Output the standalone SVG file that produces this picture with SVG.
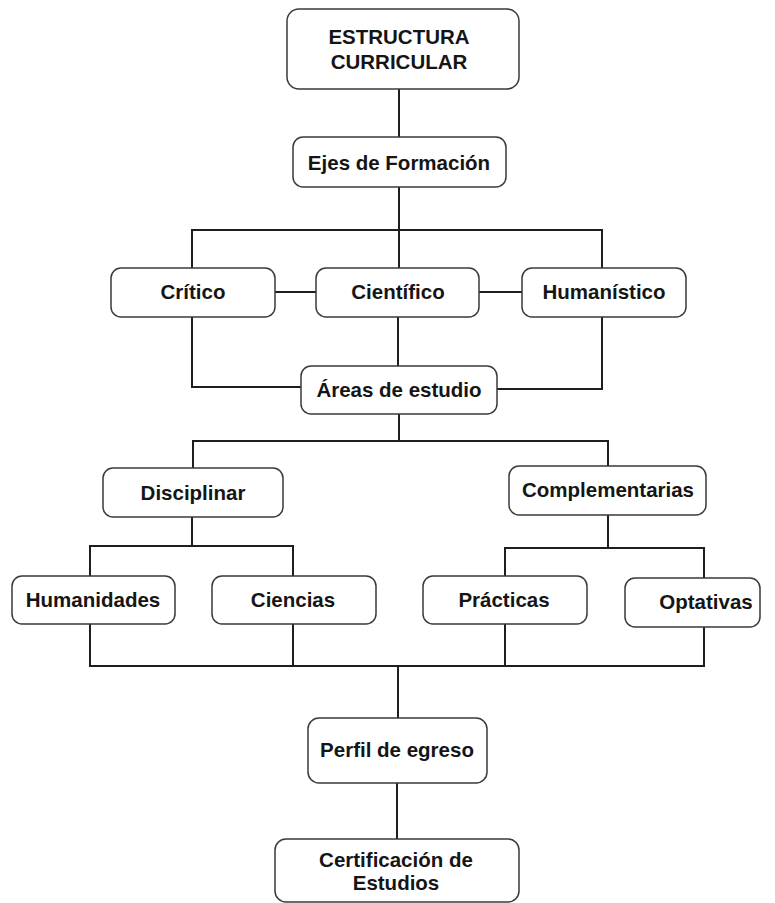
<svg xmlns="http://www.w3.org/2000/svg" width="775" height="903" viewBox="0 0 775 903">
  <style>
    .box { fill: #ffffff; stroke: #3a3a3a; stroke-width: 1.5; }
    .lbl { font-family: "Liberation Sans", Arial, sans-serif; font-weight: bold; font-size: 20.5px; fill: #151515; text-anchor: middle; }
    .wire { fill: none; stroke: #1e1e1e; stroke-width: 2; }
  </style>
  <rect width="775" height="903" fill="#ffffff"/>

  <!-- connectors -->
  <g id="connectors" class="wire">
    <path d="M399 89 V137"/>
    <path d="M399 187 V230"/>
    <path d="M192 268 V230 H602 V268"/>
    <path d="M399 230 V268"/>
    <path d="M275 292 H316"/>
    <path d="M479 292 H522"/>
    <path d="M192 317 V387 H301"/>
    <path d="M602 317 V389 H497"/>
    <path d="M398 317 V366"/>
    <path d="M399 414 V441"/>
    <path d="M193 468 V441 H608 V466"/>
    <path d="M192 517 V546"/>
    <path d="M90 576 V546 H293 V576"/>
    <path d="M608 515 V548"/>
    <path d="M505 576 V548 H704 V578"/>
    <path d="M90 624 V666 H704 V627"/>
    <path d="M293 624 V666"/>
    <path d="M505 624 V666"/>
    <path d="M398 666 V718"/>
    <path d="M397 783 V839"/>
  </g>

  <g id="estructura">
    <rect class="box" x="287" y="9" width="232" height="80" rx="12"/>
    <text class="lbl" x="399" y="44">ESTRUCTURA</text>
    <text class="lbl" x="399" y="69">CURRICULAR</text>
  </g>
  <g id="ejes">
    <rect class="box" x="293" y="137" width="213" height="50" rx="10"/>
    <text class="lbl" x="399" y="170">Ejes de Formación</text>
  </g>
  <g id="critico">
    <rect class="box" x="111" y="268" width="164" height="49" rx="10"/>
    <text class="lbl" x="193" y="299">Crítico</text>
  </g>
  <g id="cientifico">
    <rect class="box" x="316" y="268" width="163" height="49" rx="10"/>
    <text class="lbl" x="398" y="299">Científico</text>
  </g>
  <g id="humanistico">
    <rect class="box" x="522" y="268" width="164" height="49" rx="10"/>
    <text class="lbl" x="604" y="299">Humanístico</text>
  </g>
  <g id="areas">
    <rect class="box" x="301" y="366" width="196" height="48" rx="10"/>
    <text class="lbl" x="399" y="397">Áreas de estudio</text>
  </g>
  <g id="disciplinar">
    <rect class="box" x="103" y="468" width="180" height="49" rx="10"/>
    <text class="lbl" x="193" y="500">Disciplinar</text>
  </g>
  <g id="complementarias">
    <rect class="box" x="509" y="466" width="197" height="49" rx="10"/>
    <text class="lbl" x="608" y="497">Complementarias</text>
  </g>
  <g id="humanidades">
    <rect class="box" x="12" y="576" width="163" height="48" rx="10"/>
    <text class="lbl" x="93" y="607">Humanidades</text>
  </g>
  <g id="ciencias">
    <rect class="box" x="212" y="576" width="164" height="48" rx="10"/>
    <text class="lbl" x="293" y="607">Ciencias</text>
  </g>
  <g id="practicas">
    <rect class="box" x="423" y="576" width="164" height="48" rx="10"/>
    <text class="lbl" x="504" y="607">Prácticas</text>
  </g>
  <g id="optativas">
    <rect class="box" x="625" y="578" width="135" height="49" rx="10"/>
    <text class="lbl" x="706" y="609">Optativas</text>
  </g>
  <g id="perfil">
    <rect class="box" x="308" y="718" width="179" height="65" rx="11"/>
    <text class="lbl" x="397" y="757">Perfil de egreso</text>
  </g>
  <g id="certificacion">
    <rect class="box" x="275" y="839" width="244" height="63" rx="11"/>
    <text class="lbl" x="396" y="867">Certificación de</text>
    <text class="lbl" x="396" y="890">Estudios</text>
  </g>
</svg>
